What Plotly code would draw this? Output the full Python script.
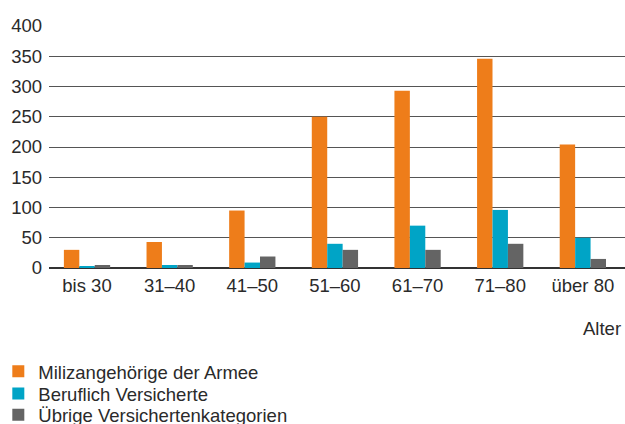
import plotly.graph_objects as go

# Age groups and counts per insured category
age_groups = ["bis 30", "31–40", "41–50", "51–60", "61–70", "71–80", "über 80"]
miliz = [30, 43, 95, 250, 293, 346, 204]
beruflich = [2, 5, 9, 40, 70, 96, 50]
uebrige = [5, 5, 19, 30, 30, 40, 15]

series_names = [
    "Milizangehörige der Armee",
    "Beruflich Versicherte",
    "Übrige Versichertenkategorien",
]
series_colors = ["#EE7D1A", "#00A4C6", "#646464"]
y_ticks = [0, 50, 100, 150, 200, 250, 300, 350, 400]

font_family = "Liberation Sans, Arial, Helvetica, sans-serif"
text_color = "#2a2a2a"
font_size = 18.5

# one legend per series so the rows can sit close together
legend_ids = ["legend", "legend2", "legend3"]
legend_tops = [0.168, 0.1155, 0.0655]

fig = go.Figure()
for name, values, color, lid in zip(
    series_names, [miliz, beruflich, uebrige], series_colors, legend_ids
):
    fig.add_trace(
        go.Bar(
            x=age_groups,
            y=values,
            name=name,
            legend=lid,
            marker=dict(color=color, line=dict(width=0)),
        )
    )

legend_common = dict(
    orientation="v",
    xref="paper",
    yref="container",
    x=-0.088,
    xanchor="left",
    yanchor="top",
    font=dict(size=font_size, color=text_color),
    itemclick=False,
    bgcolor="rgba(0,0,0,0)",
)

fig.update_layout(
    width=625,
    height=424,
    margin=dict(l=49, r=0, t=26, b=156, autoexpand=False),
    paper_bgcolor="white",
    plot_bgcolor="white",
    barmode="group",
    bargap=0.44,
    bargroupgap=0,
    font=dict(family=font_family, size=font_size, color=text_color),
    showlegend=True,
    legend=dict(legend_common, y=legend_tops[0]),
    legend2=dict(legend_common, y=legend_tops[1]),
    legend3=dict(legend_common, y=legend_tops[2]),
    xaxis=dict(
        type="category",
        range=[-0.46, 6.51],
        showgrid=False,
        showline=False,
        ticks="",
        tickfont=dict(size=font_size, color=text_color),
        ticklabelstandoff=4,
    ),
    yaxis=dict(
        range=[0, 400],
        tickvals=y_ticks,
        showgrid=True,
        gridcolor="#555555",
        gridwidth=1,
        zeroline=True,
        zerolinecolor="#333333",
        zerolinewidth=2,
        showline=False,
        ticks="",
        tickfont=dict(size=font_size, color=text_color),
        ticklabelstandoff=6,
    ),
    annotations=[
        dict(
            text="Alter",
            xref="paper",
            yref="paper",
            x=0.997,
            y=-0.25,
            xanchor="right",
            yanchor="middle",
            showarrow=False,
            font=dict(size=font_size, color=text_color),
        )
    ],
)

fig.write_html("out.html")
